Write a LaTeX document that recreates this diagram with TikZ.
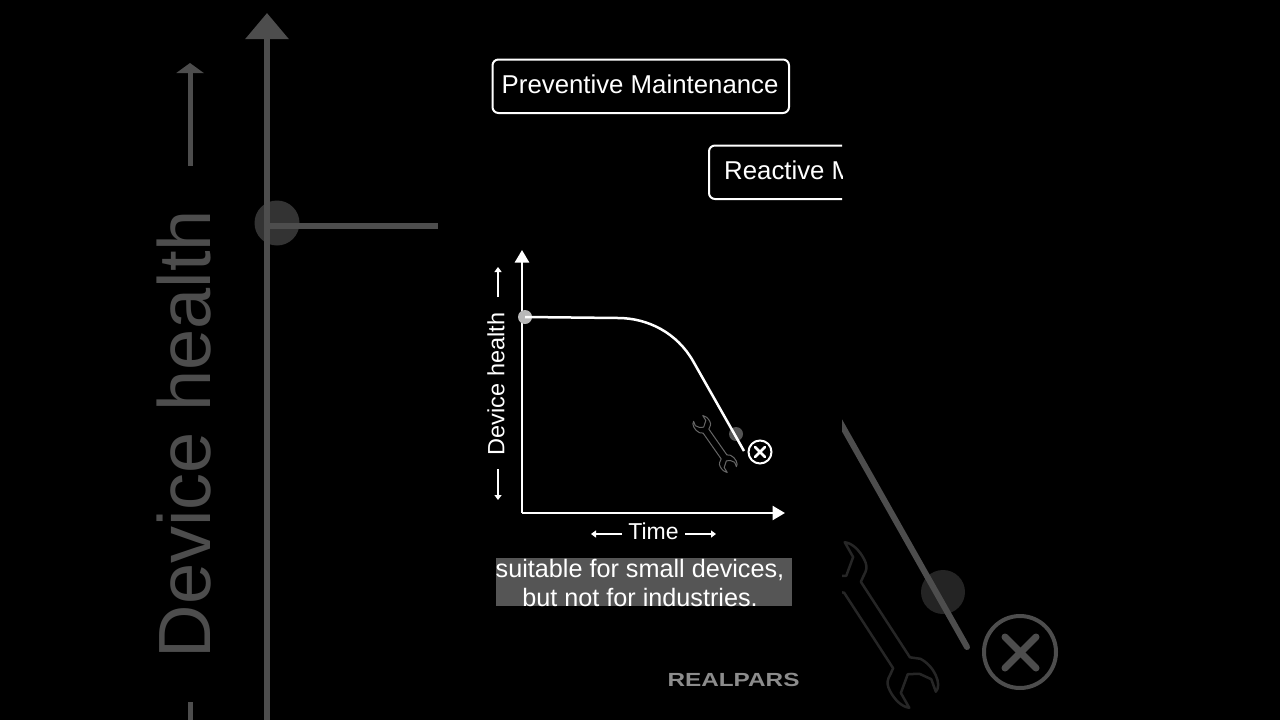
\documentclass[tikz,border=0pt]{standalone}
\usepackage{fontspec}
\setmainfont{Liberation Sans}
\usetikzlibrary{arrows.meta}
\definecolor{fadedgray}{HTML}{4D4D4D}
\definecolor{fadeddot}{HTML}{333333}
\definecolor{fadedwrench}{HTML}{262626}
\definecolor{captionbg}{HTML}{555555}
\definecolor{logogray}{HTML}{8C8C8C}
\newcommand{\fsize}[1]{\fontsize{#1}{#1}\selectfont}

\begin{document}
\begin{tikzpicture}[
    x=1pt, y=-1pt,
    % === STYLES ===
    axis line/.style={white, line width=2.5pt, -{Triangle[length=12.5pt, width=14pt]}},
    health line/.style={white, line width=2.5pt},
    small arrow/.style={white, line width=1.5pt, -{Triangle[length=5pt, width=7pt]}},
    faded axis/.style={fadedgray, line width=6pt, -{Triangle[length=26pt, width=42pt]}},
    faded line/.style={fadedgray, line width=5.5pt},
    faded arrow/.style={fadedgray, line width=5pt, -{Triangle[length=10pt, width=27pt]}},
    label box/.style={draw=white, line width=2pt, rounded corners=6pt, fill=black},
    label text/.style={white, inner sep=0pt, font=\fsize{25.8}},
    wrench line/.style={line width=#1, line join=round},
    pics/wrench/.style={code={
        \draw[pic actions]
            (-45,10) -- (45,10)
            .. controls (50,16) and (50,24) .. (62,25)
            .. controls (72,26) and (82,24) .. (87,18)
            -- (70,17) -- (58,1) -- (64,-9) -- (75,-16) -- (88,-13)
            .. controls (86,-22) and (66,-26) .. (52,-18)
            -- (45,-10) -- (-45,-10)
            .. controls (-50,-16) and (-50,-24) .. (-62,-25)
            .. controls (-72,-26) and (-82,-24) .. (-87,-18)
            -- (-70,-17) -- (-58,-1) -- (-64,9) -- (-75,16) -- (-88,13)
            .. controls (-86,22) and (-66,26) .. (-52,18)
            -- cycle;
    }},
]
    % === BACKGROUND ===
    \fill[black] (0,0) rectangle (1280,720);
    \useasboundingbox (0,0) rectangle (1280,720);

    % === LEFT ZOOMED PART ===
    \coordinate (bigOrigin) at (267,720);
    \coordinate (bigTop) at (267,13);
    \coordinate (bigStart) at (267,226);
    \coordinate (bigEnd) at (438,226);
    \fill[fadeddot] (277,223) circle (22.5);
    \draw[faded axis] (bigOrigin) -- (bigTop);
    \draw[faded line] (bigStart) -- (bigEnd);
    \node[rotate=90, text=fadedgray, inner sep=0pt, font=\fsize{74}] (bigHealth) at (184,434) {Device health};
    \coordinate (bigUpStart) at (190,166);
    \coordinate (bigUpEnd) at (190,63);
    \coordinate (bigDownStart) at (190,702);
    \coordinate (bigDownEnd) at (190,720);
    \draw[faded arrow] (bigUpStart) -- (bigUpEnd);
    \draw[fadedgray, line width=5pt] (bigDownStart) -- (bigDownEnd);

    % === RIGHT ZOOMED PART ===
    \begin{scope}
        \clip (842,400) rectangle (1280,720);
        \fill[fadeddot!70!black] (943,592) circle (22);
        \draw[fadedgray, line width=6pt, line cap=round] (835,413) -- (967,647);
        \pic[draw=fadedwrench, wrench line=2.5pt, rotate=-57] at (877,625) {wrench};
    \end{scope}
    \draw[fadedgray, line width=4pt] (1020,652) circle (36);
    \draw[fadedgray, line width=7pt, line cap=round] (1005,637) -- (1036,668);
    \draw[fadedgray, line width=7pt, line cap=round] (1036,637) -- (1005,668);

    % === LABEL BOXES ===
    \draw[label box] (492.5,59.5) rectangle (789,113);
    \node[label text, anchor=base west] (preventive) at (501.5,93) {Preventive Maintenance};
    \begin{scope}
        \clip (700,130) rectangle (842,210);
        \draw[label box] (709,145.5) rectangle (880,199);
        \node[label text, anchor=base west] (reactive) at (724,179.5) {Reactive M};
    \end{scope}

    % === MAIN GRAPH ===
    \coordinate (O) at (522,513);
    \coordinate (yTip) at (522,250);
    \coordinate (xTip) at (785,513);
    \draw[axis line] (O) -- (yTip);
    \draw[axis line] (O) -- (xTip);

    % === DEVICE HEALTH CURVE ===
    \coordinate (startPoint) at (525,317);
    \coordinate (bendIn) at (618,318);
    \coordinate (bendOut) at (693,361);
    \coordinate (endPoint) at (744,451);
    \fill[white!72!black] (startPoint) circle (7);
    \fill[white!33!black] (736,434) circle (7);
    \draw[health line] (startPoint) -- (bendIn)
        .. controls (648,318) and (677,333) .. (bendOut) -- (endPoint);

    % === WRENCH AND FAILURE MARK ===
    \pic[draw=white!40!black, wrench line=1pt, rotate=-55, scale=.35] at (715,444) {wrench};
    \draw[white, line width=2pt] (760,452) circle (11.5);
    \draw[white, line width=2.5pt, line cap=round] (755,447) -- (765,457);
    \draw[white, line width=2.5pt, line cap=round] (765,447) -- (755,457);

    % === AXIS LABELS ===
    \node[rotate=90, white, inner sep=0pt, font=\fsize{23.5}] (health) at (496,384) {Device health};
    \node[white, inner sep=0pt, font=\fsize{23}] (time) at (653.5,531) {Time};
    \coordinate (healthUpStart) at (498,297);
    \coordinate (healthUpEnd) at (498,267);
    \coordinate (healthDownStart) at (498,469);
    \coordinate (healthDownEnd) at (498,500);
    \coordinate (timeLeftStart) at (622,534);
    \coordinate (timeLeftEnd) at (591,534);
    \coordinate (timeRightStart) at (685,534);
    \coordinate (timeRightEnd) at (716,534);
    \foreach \a/\b in {healthUpStart/healthUpEnd, healthDownStart/healthDownEnd, timeLeftStart/timeLeftEnd, timeRightStart/timeRightEnd}
        \draw[small arrow] (\a) -- (\b);

    % === CAPTION ===
    \fill[captionbg] (496,558) rectangle (791.5,605.5);
    \node[white, inner sep=0pt, anchor=base, font=\fsize{25.2}] (captionOne) at (640,577.5) {suitable for small devices,};
    \node[white, inner sep=0pt, anchor=base, font=\fsize{25.2}] (captionTwo) at (640,606) {but not for industries.};

    % === LOGO ===
    \node[logogray, inner sep=0pt, anchor=base, font=\fsize{19}\bfseries, xscale=1.28] (logo) at (733.5,686) {REALPARS};
\end{tikzpicture}
\end{document}
